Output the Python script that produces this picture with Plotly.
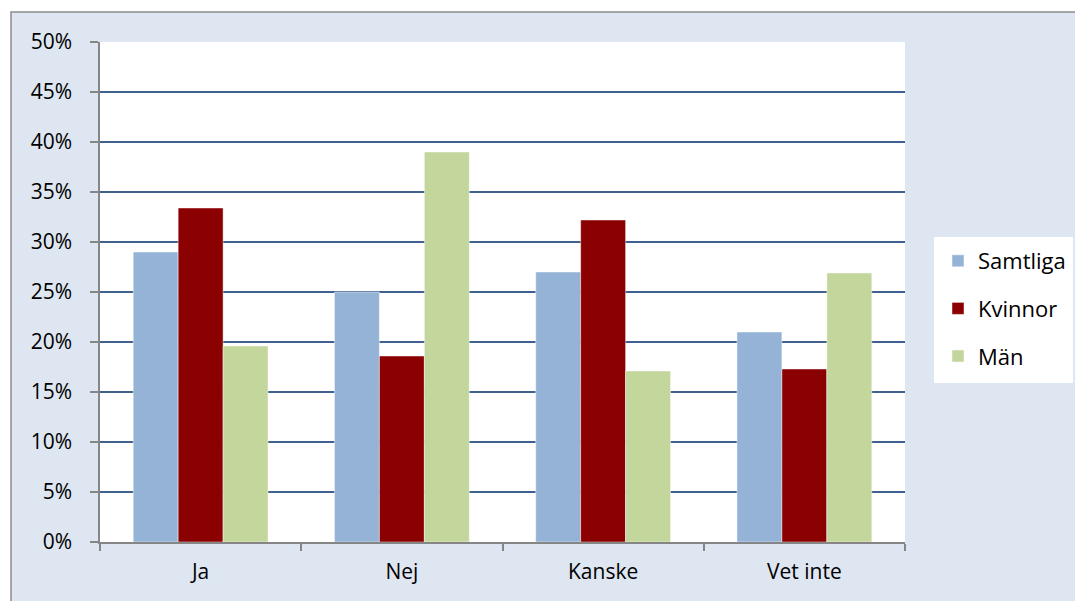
import plotly.graph_objects as go

# Survey answers per group (share of respondents)
categories = ["Ja", "Nej", "Kanske", "Vet inte"]
samtliga = [0.29, 0.25, 0.27, 0.21]
kvinnor = [0.334, 0.186, 0.322, 0.173]
man = [0.196, 0.39, 0.171, 0.269]

series = [
    ("Samtliga", samtliga, "#95b3d7"),
    ("Kvinnor", kvinnor, "#8b0000"),
    ("Män", man, "#c3d69b"),
]

W, H = 1075, 601
L, R, T, B = 100, 905, 42, 542  # plot area in pixels

def px_x(x):
    return (x - L) / (R - L)

def px_y(y):
    return (B - y) / (B - T)

FONT = "Open Sans"

fig = go.Figure()
for i, (name, vals, color) in enumerate(series):
    fig.add_trace(go.Bar(
        x=categories, y=vals, name=name,
        marker=dict(color=color, line=dict(color="rgba(255,255,255,0.45)", width=1)),
        legendgroup=f"g{i}",
    ))

shapes = [
    # chart area background with grey frame
    dict(type="rect", xref="paper", yref="paper",
         x0=px_x(11), x1=px_x(W + 20), y0=px_y(H + 20), y1=px_y(12),
         fillcolor="#dee6f2", line=dict(color="#8c8c8c", width=1.5), layer="below"),
    # white plot area
    dict(type="rect", xref="paper", yref="paper",
         x0=0, x1=1, y0=0, y1=1,
         fillcolor="white", line=dict(width=0), layer="below"),
    # legend box
    dict(type="rect", xref="paper", yref="paper",
         x0=px_x(934), x1=px_x(1073), y0=px_y(383), y1=px_y(237),
         fillcolor="white", line=dict(width=0), layer="below"),
]

fig.update_layout(
    width=W, height=H,
    margin=dict(l=L, r=W - R, t=T, b=H - B, autoexpand=False),
    paper_bgcolor="white",
    plot_bgcolor="rgba(0,0,0,0)",
    barmode="group", bargap=0.33, bargroupgap=0,
    font=dict(family=FONT, size=21, color="#000000"),
    shapes=shapes,
    legend=dict(
        x=px_x(938), y=px_y(240), xanchor="left", yanchor="top",
        bgcolor="rgba(0,0,0,0)", font=dict(family=FONT, size=22),
        traceorder="grouped", tracegroupgap=16,
    ),
    xaxis=dict(
        showline=True, linecolor="#868686", linewidth=1.5,
        ticks="outside", ticklen=7, tickcolor="#868686", tickwidth=1.5,
        tickson="boundaries", showgrid=False,
        ticklabelstandoff=10,
    ),
    yaxis=dict(
        range=[0, 0.5], dtick=0.05, tickformat=".0%",
        showline=True, linecolor="#868686", linewidth=1.5,
        ticks="outside", ticklen=8, tickcolor="#868686", tickwidth=1.5,
        showgrid=True, gridcolor="#3f6190", gridwidth=2,
        zeroline=False, ticklabelstandoff=14,
    ),
)

fig.write_html("out.html")
